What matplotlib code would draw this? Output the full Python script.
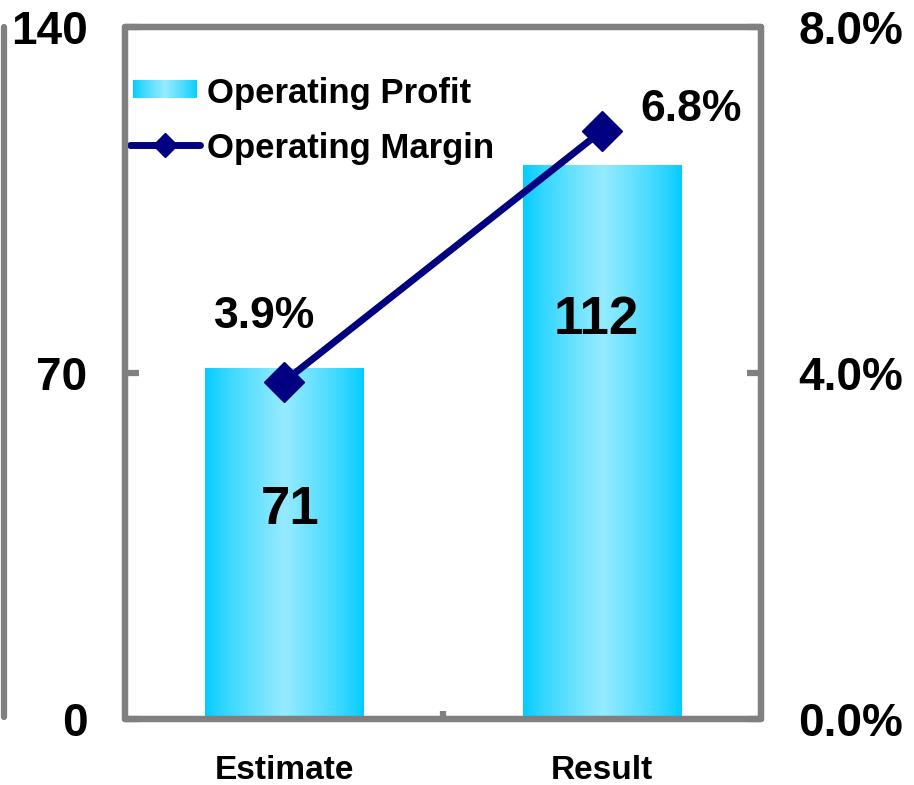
import numpy as np
import matplotlib
matplotlib.use("Agg")
import matplotlib.pyplot as plt
from matplotlib.lines import Line2D
from matplotlib.ticker import FuncFormatter

# data
categories = ["Estimate", "Result"]
profit = [71, 112]
margin = [3.9, 6.8]          # percent

profit_ticks = [0, 70, 140]
margin_ticks = [0.0, 4.0, 8.0]

plt.rcParams['font.family'] = ['Liberation Sans', 'DejaVu Sans']
plt.rcParams['font.weight'] = 'bold'

GRAY = '#808080'
NAVY = '#000080'
EDGE = np.array([0, 204, 255]) / 255.0
LIGHT = np.array([150, 235, 255]) / 255.0

fig = plt.figure(figsize=(9.14, 7.85), dpi=100)
ax = fig.add_axes([125 / 914, 1 - 719 / 785, 636 / 914, 692 / 785])
ax2 = ax.twinx()

x = np.arange(len(categories))

# horizontal gradient for the bars
t = np.linspace(0, 1, 200)
w = (1 - np.abs(2 * t - 1)) ** 0.8
grad = EDGE[None, :] * (1 - w[:, None]) + LIGHT[None, :] * w[:, None]
grad = grad[None, :, :]

bars = ax.bar(x, profit, width=0.5, color='none', edgecolor='none', zorder=2)
for b in bars:
    x0, y0 = b.get_x(), b.get_y()
    ax.imshow(grad, extent=[x0, x0 + b.get_width(), y0, y0 + b.get_height()],
              aspect='auto', zorder=2, interpolation='bilinear')
ax.set_xlim(-0.5, len(categories) - 0.5)
ax.set_ylim(0, 140)

# value labels inside bars
for xi, v, dx, dy in zip(x, profit, [6, -6], [-142, -155]):
    ax.annotate(str(v), (xi, v), xytext=(dx, dy), textcoords='offset pixels',
                ha='center', va='center', fontsize=38, fontweight='bold', zorder=5)

# margin line
ax2.plot(x, margin, color=NAVY, lw=5, marker='D', markersize=20, zorder=4)
for xi, m, dx, dy in zip(x, margin, [-19, 89], [65, 21]):
    ax2.annotate(f"{m:.1f}%", (xi, m), xytext=(dx, dy), textcoords='offset pixels',
                 ha='center', va='center', fontsize=32, fontweight='bold')

# axes styling
for a in (ax, ax2):
    for s in a.spines.values():
        s.set_color(GRAY)
        s.set_linewidth(4.5)
        s.set_capstyle('round')

ax.set_yticks(profit_ticks)
ax.tick_params(axis='y', direction='in', length=10, width=4.5, color=GRAY,
               pad=27, labelsize=33)
ax2.set_yticks(margin_ticks)
ax2.yaxis.set_major_formatter(FuncFormatter(lambda v, p: f"{v:.1f}%"))
ax2.tick_params(axis='y', direction='in', length=10, width=4.5, color=GRAY,
                pad=27, labelsize=33)

ax.set_xticks(x)
ax.set_xticklabels(categories)
ax.set_xticks([0.5], minor=True)
ax.tick_params(axis='x', which='major', length=0, pad=26, labelsize=24)
ax.tick_params(axis='x', which='minor', direction='in', length=6, width=4.5, color=GRAY)

for lab in ax.get_yticklabels() + ax2.get_yticklabels() + ax.get_xticklabels():
    lab.set_fontweight('bold')

# legend drawn by hand
ax2.imshow(grad, extent=[0.0126, 0.113, 0.897, 0.922], transform=ax2.transAxes,
           aspect='auto', zorder=5)
ax2.set_ylim(0, 8.0)
ax2.text(0.129, 0.904, "Operating Profit", transform=ax2.transAxes, fontsize=25,
         fontweight='bold', va='center', ha='left')
ax2.add_line(Line2D([0.008, 0.118], [0.830, 0.830], transform=ax2.transAxes,
                    color=NAVY, lw=5, solid_capstyle='round'))
ax2.add_line(Line2D([0.063], [0.830], transform=ax2.transAxes, color=NAVY,
                    marker='D', markersize=12, lw=0))
ax2.text(0.129, 0.824, "Operating Margin", transform=ax2.transAxes, fontsize=25,
         fontweight='bold', va='center', ha='left')

# stray gray rule at far left
fig.add_artist(Line2D([4 / 914, 4 / 914], [1 - 27 / 785, 1 - 717 / 785],
                      transform=fig.transFigure, color=GRAY, lw=4.5,
                      solid_capstyle='round'))

fig.savefig("out.png", dpi=100)
